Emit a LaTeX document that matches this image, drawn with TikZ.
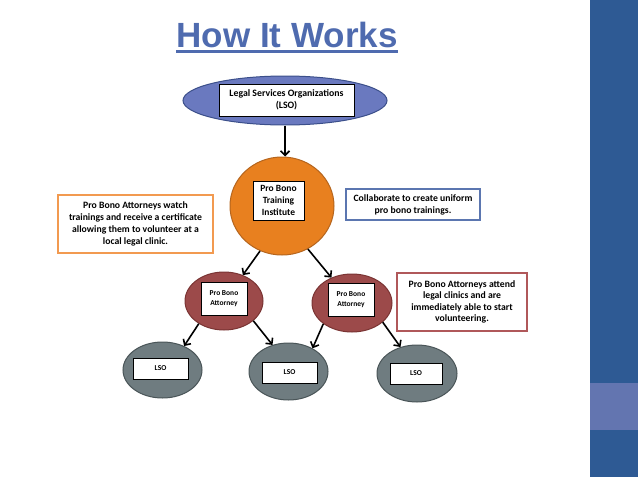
\documentclass[tikz,border=0pt]{standalone}
\usepackage{fontspec}
\setmainfont{Carlito}
\newfontfamily\titlefont{Liberation Sans}
\usetikzlibrary{shapes.geometric,arrows.meta,calc}
\definecolor{titleblue}{HTML}{4F6BAF}
\definecolor{lsofill}{HTML}{6A79BF}
\definecolor{lsodraw}{HTML}{3B4F8A}
\definecolor{orfill}{HTML}{E8801F}
\definecolor{ordraw}{HTML}{B5651D}
\definecolor{attfill}{HTML}{9C4A4A}
\definecolor{attdraw}{HTML}{7A3433}
\definecolor{gyfill}{HTML}{6F7C80}
\definecolor{gydraw}{HTML}{4A5558}
\definecolor{orbox}{HTML}{F29A50}
\definecolor{bluebox}{HTML}{5B76B0}
\definecolor{redbox}{HTML}{B0585A}
\definecolor{side}{HTML}{2E5A94}
\definecolor{band}{HTML}{6375B0}
\tikzset{
  ell/.style={ellipse, draw, line width=1pt, inner sep=0pt},
  wbox/.style={rectangle, draw=black, fill=white, line width=0.8pt, inner sep=0pt, align=center},
  note/.style={rectangle, fill=white, line width=1.2pt, inner sep=0pt, align=center,
    font=\fontsize{9.7}{12}\selectfont\bfseries},
  arr/.style={-{Straight Barb[length=4.5pt,width=9pt]}, line width=1.6pt},
  big/.style={font=\fontsize{9.8}{12}\selectfont\bfseries},
  small/.style={font=\fontsize{7.5}{10}\selectfont\bfseries},
}
\begin{document}
\begin{tikzpicture}[x=1pt,y=-1pt]
\useasboundingbox (0,0) rectangle (638,479);
% sidebar
\fill[side] (590,0) rectangle (638,477);
\fill[band] (590,383) rectangle (638,430);
% title
\node[font=\titlefont\bfseries\fontsize{35}{42}\selectfont, text=titleblue, inner sep=0pt, anchor=base] (title) at (287,47) {How It Works};
\draw[titleblue, line width=3pt] ($(title.base west)+(0,-4.7pt)$) -- ($(title.base east)+(0,-4.7pt)$);
% top LSO
\node[ell, fill=lsofill, draw=lsodraw, minimum width=204pt, minimum height=49pt] (lso) at (285,100.5) {};
\node[wbox, big, minimum width=135pt, minimum height=32pt] (lsot) at (286.5,100) {Legal Services Organizations\\(LSO)};
% institute
\node[ell, fill=orfill, draw=ordraw, minimum width=104pt, minimum height=98pt] (pbti) at (282,206) {};
\node[wbox, font=\fontsize{9.5}{12.3}\selectfont\bfseries, minimum width=51pt, minimum height=39pt] (pbtit) at (278.5,200.5) {Pro Bono\\Training\\Institute};
% notes
\node[note, draw=orbox, minimum width=155pt, minimum height=58pt] (watch) at (135.5,224) {Pro Bono Attorneys watch\\trainings and receive a certificate\\allowing them to volunteer at a\\local legal clinic.};
\node[note, draw=bluebox, minimum width=134pt, minimum height=31pt] (collab) at (413,204.5) {Collaborate to create uniform\\pro bono trainings.};
\node[note, draw=redbox, minimum width=130pt, minimum height=58pt, font=\fontsize{9.7}{11.2}\selectfont\bfseries] (attend) at (462,302) {Pro Bono Attorneys attend\\legal clinics and are\\immediately able to start\\volunteering.};
% attorneys
\node[ell, fill=attfill, draw=attdraw, minimum width=78pt, minimum height=58pt] (attL) at (224,301) {};
\node[wbox, small, minimum width=46pt, minimum height=33pt] (attLt) at (224,298.5) {Pro Bono\\Attorney};
\node[ell, fill=attfill, draw=attdraw, minimum width=80pt, minimum height=58pt] (attR) at (352,303) {};
\node[wbox, small, minimum width=46pt, minimum height=33pt] (attRt) at (351,300) {Pro Bono\\Attorney};
% bottom LSOs
\node[ell, fill=gyfill, draw=gydraw, minimum width=79pt, minimum height=56pt] (lsoL) at (162.5,370) {};
\node[wbox, small, minimum width=55pt, minimum height=21pt] (lsoLt) at (160.5,368.5) {LSO};
\node[ell, fill=gyfill, draw=gydraw, minimum width=79pt, minimum height=57pt] (lsoM) at (288.5,371.5) {};
\node[wbox, small, minimum width=55pt, minimum height=21pt] (lsoMt) at (289.5,372.5) {LSO};
\node[ell, fill=gyfill, draw=gydraw, minimum width=80pt, minimum height=57pt] (lsoR) at (417,373.5) {};
\node[wbox, small, minimum width=52pt, minimum height=21pt] (lsoRt) at (416,373.5) {LSO};
% arrows
\draw[arr] (lso.south) -- (lso.south |- pbti.north);
\draw[arr] (pbti.244) -- (attL.54);
\draw[arr] (pbti.301) -- (attR.129);
\draw[arr] (attL.222) -- (lsoL.48);
\draw[arr] (attL.326) -- (lsoM.121);
\draw[arr] (attR.216) -- (lsoM.44);
\draw[arr] (attR.328) -- (lsoR.122);
\end{tikzpicture}
\end{document}
